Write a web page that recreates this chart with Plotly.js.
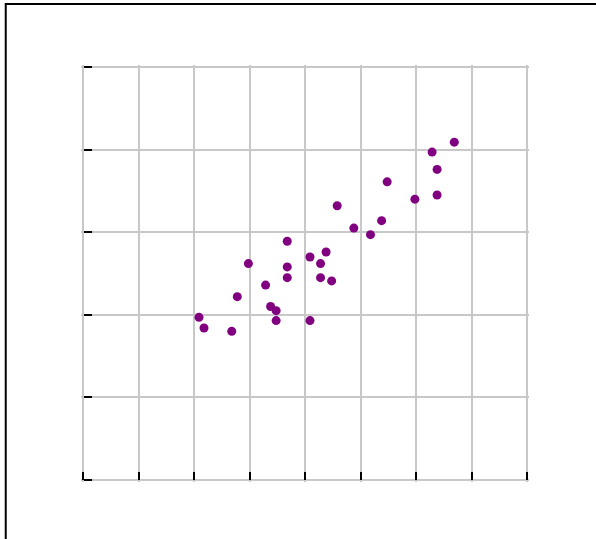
<!DOCTYPE html>
<html>
<head>
<meta charset="utf-8">
<script src="https://cdn.plot.ly/plotly-3.0.1.min.js"></script>
<style>html,body{margin:0;padding:0;background:#fff;}#chart{width:596px;height:539px;}</style>
</head>
<body>
<div id="chart"></div>
<script>
var xValues = [6.69, 6.29, 6.38, 5.48, 5.98, 6.38, 4.58, 5.38, 4.88, 5.18, 3.68, 4.38, 4.09, 4.28, 2.98, 3.68, 3.68, 4.28, 4.48, 3.29, 2.78, 3.38, 3.48, 2.09, 3.48, 4.09, 2.18, 2.68];
var yValues = [4.09, 3.97, 3.76, 3.61, 3.40, 3.45, 3.32, 3.14, 3.05, 2.97, 2.89, 2.76, 2.70, 2.62, 2.62, 2.58, 2.45, 2.45, 2.41, 2.36, 2.22, 2.10, 2.05, 1.97, 1.93, 1.93, 1.84, 1.80];

var trace = {
  x: xValues, y: yValues, type: 'scatter', mode: 'markers',
  marker: {color: '#800080', size: 9},
  hoverinfo: 'none', cliponaxis: false
};
var axisCommon = {
  showgrid: true, gridcolor: '#c8c8c8', gridwidth: 2,
  zeroline: false, showline: false,
  ticks: 'inside', ticklen: 8, tickwidth: 2, tickcolor: '#000',
  showticklabels: false, anchor: 'free'
};
var layout = {
  width: 596, height: 539,
  margin: {l: 81, r: 67, t: 65, b: 57},
  paper_bgcolor: '#fff', plot_bgcolor: '#fff',
  showlegend: false,
  xaxis: Object.assign({range: [-0.036, 8.036], dtick: 1, tick0: 0, position: 2 / 417}, axisCommon),
  yaxis: Object.assign({range: [-0.0242, 5.0242], dtick: 1, tick0: 0, position: 2 / 448}, axisCommon),
  shapes: [{
    type: 'rect', xref: 'paper', yref: 'paper',
    x0: -0.168, x1: 2, y0: -1, y1: 1.146,
    line: {color: '#000', width: 2}, fillcolor: 'rgba(0,0,0,0)'
  }]
};
Plotly.newPlot('chart', [trace], layout, {staticPlot: true});
</script>
</body>
</html>
